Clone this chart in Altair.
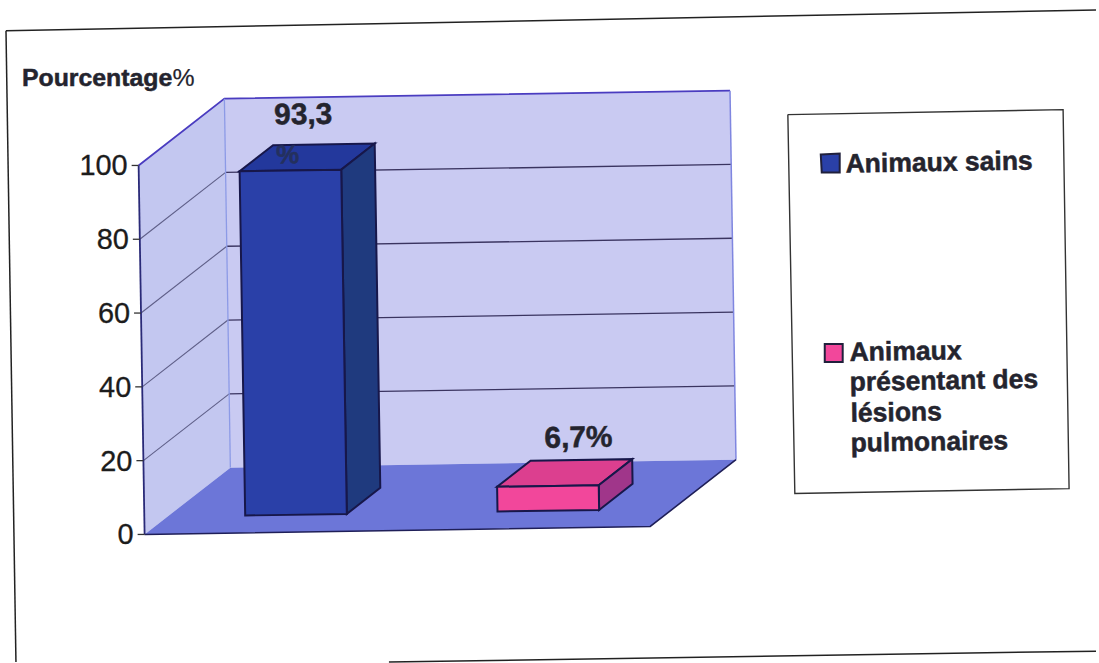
import altair as alt
import pandas as pd

# Chart content
categories = ["Animaux sains", "Animaux présentant des lésions pulmonaires"]
values = [93.3, 6.7]
axis_ticks = [0, 20, 40, 60, 80, 100]
axis_title = "Pourcentage"

# Oblique projection of the 3D box: origin, full category span, full depth, 100 units of height
ORIGIN = (145, 535)
CAT = (507, -8)
DEPTH = (86, -67)
UNIT = (-6 / 100, -370 / 100)

# Bar extents as fractions of the category span and of the depth
BAR_SPANS = [(0.154, 0.355), (0.653, 0.854)]
BAR_DEPTH = (0.265, 0.655)

# Face colours: front, top, side
BAR_COLORS = [("#2a40a8", "#23389c", "#1f3a7e"), ("#f2479b", "#dc3f8f", "#a0368a")]
EDGE = "#17174a"
INK = "#24242e"
FONT = "Liberation Sans"
TILT = 359.1

X = alt.X("x:Q", scale=alt.Scale(domain=[0, 1099]), axis=None)
Y = alt.Y("y:Q", scale=alt.Scale(domain=[663, 0]), axis=None)


def project(c, d, v):
    return (
        ORIGIN[0] + c * CAT[0] + d * DEPTH[0] + v * UNIT[0],
        ORIGIN[1] + c * CAT[1] + d * DEPTH[1] + v * UNIT[1],
    )


def frame(points):
    return pd.DataFrame(
        [{"x": p[0], "y": p[1], "i": i} for i, p in enumerate(points)]
    )


def face(points, fill, stroke=EDGE, width=2.0):
    return (
        alt.Chart(frame(points))
        .mark_line(interpolate="linear-closed", fill=fill, stroke=stroke, strokeWidth=width)
        .encode(x=X, y=Y, order="i:Q")
    )


def line(points, stroke, width=1.2):
    return (
        alt.Chart(frame(points))
        .mark_line(stroke=stroke, strokeWidth=width)
        .encode(x=X, y=Y, order="i:Q")
    )


def text(x, y, label, size, weight="bold", align="left", baseline="alphabetic", color=INK, angle=TILT, halo=0.5):
    return (
        alt.Chart(pd.DataFrame([{"x": x, "y": y, "label": label}]))
        .mark_text(
            font=FONT,
            fontSize=size,
            fontWeight=weight,
            align=align,
            baseline=baseline,
            color=color,
            stroke=color,
            strokeWidth=halo,
            angle=angle,
        )
        .encode(x=X, y=Y, text="label:N")
    )


layers = []

# Sheet border
layers += [
    line([(6, 30), (1099, 9)], "#222222", 1.5),
    line([(6, 30), (16, 663)], "#222222", 1.5),
    line([(390, 663), (1099, 652)], "#222222", 1.5),
]

# Walls and floor
layers += [
    face([project(0, 0, 0), project(0, 1, 0), project(0, 1, 100), project(0, 0, 100)], "#c3c7f0", "#c3c7f0", 0),
    face([project(0, 1, 0), project(1, 1, 0), project(1, 1, 100), project(0, 1, 100)], "#c9caf2", "#c9caf2", 0),
    face([project(0, 0, 0), project(1, 0, 0), project(1, 1, 0), project(0, 1, 0)], "#6c76d8", "#6c76d8", 0),
]

# Gridlines: lighter across the side wall, darker along the back wall
for t in axis_ticks[1:-1]:
    layers.append(line([project(0, 0, t), project(0, 1, t)], "#5f5f88", 1.1))
    layers.append(line([project(0, 1, t), project(1, 1, t)], "#3a3460", 1.3))

# Wall outlines and the floor edges
layers += [
    line([project(0, 0, 100), project(0, 1, 100), project(1, 1, 100)], "#4a3cc0", 1.8),
    line([project(0, 1, 0), project(0, 1, 100)], "#8c9ae6", 1.3),
    line([project(1, 1, 0), project(1, 1, 100)], "#7f86e0", 1.5),
    line([project(0, 0, 0), project(0, 0, 100)], "#2a2a78", 1.8),
    line([project(0, 0, 0), project(1, 0, 0), project(1, 1, 0)], "#1f1f58", 1.6),
]

# Axis ticks and labels
for t in axis_ticks:
    tx, ty = project(0, 0, t)
    layers.append(line([(tx - 7, ty), (tx, ty)], "#333333", 1.3))
    layers.append(text(tx - 11, ty + 1, str(t), 29, weight="normal", align="right", baseline="middle", color="#1c1c1c", angle=0, halo=0.3))

# Bars
for (c0, c1), v, (front, top, side) in zip(BAR_SPANS, values, BAR_COLORS):
    d0, d1 = BAR_DEPTH
    layers += [
        face([project(c0, d0, v), project(c1, d0, v), project(c1, d1, v), project(c0, d1, v)], top),
        face([project(c1, d0, 0), project(c1, d1, 0), project(c1, d1, v), project(c1, d0, v)], side),
        face([project(c0, d0, 0), project(c1, d0, 0), project(c1, d0, v), project(c0, d0, v)], front),
    ]

# Value labels, written from the same values as the bars
first, second = [f"{v:.1f}".replace(".", ",") for v in values]
layers += [
    text(275, 124, first, 30),
    text(277, 163, "%", 26, color="#24305e"),
    text(546, 448, second + "%", 30),
]

# Axis title
layers += [
    text(22, 85, axis_title, 24.9, angle=0),
    text(173, 85, "%", 24.9, weight="normal", angle=0, halo=0.2),
]

# Legend box
layers.append(line([(790, 114), (1066, 109), (1072, 489), (797, 494), (790, 114)], "#333333", 1.4))

# Legend entries
layers += [
    face([(823, 154), (842, 153), (842, 172), (824, 172)], BAR_COLORS[0][0], "#20203c", 2),
    text(848, 172, categories[0], 26.6),
    face([(827, 344), (845, 344), (845, 362), (827, 362)], BAR_COLORS[1][0], "#20203c", 2),
    text(852, 361, "Animaux", 26.6),
    text(852, 391, "présentant des", 26.6),
    text(853, 422, "lésions", 26.6),
    text(853, 452, "pulmonaires", 26.6),
]

chart = (
    alt.layer(*layers)
    .properties(width=1099, height=663, padding=0, background="#ffffff")
    .configure_view(stroke=None)
)

chart.save("out.html", embed_options={"renderer": "svg", "actions": False})
